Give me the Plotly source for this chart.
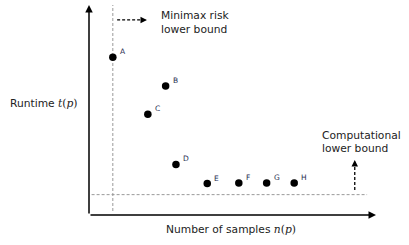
import plotly.graph_objects as go

# Data (abstract units: x = number of samples, y = runtime; axes span 0..100)
labels = ["A", "B", "C", "D", "E", "F", "G", "H"]
samples = [8.3, 26.7, 20.5, 30.3, 41.2, 52.2, 61.9, 71.5]
runtime = [75.1, 61.4, 48.0, 24.1, 15.0, 15.2, 15.2, 15.2]
minimax_bound_x = 8.3
computational_bound_y = 9.7

TXT = "#222222"
FONT = "DejaVu Sans, Verdana, sans-serif"
SERIF = "DejaVu Serif, Liberation Serif, serif"
FS = 10.7

fig = go.Figure()

# bound lines
fig.add_trace(go.Scatter(x=[minimax_bound_x, minimax_bound_x], y=[1.9, 100], mode="lines",
                         line=dict(color="#9a9a9a", width=1, dash="3px,2px"), hoverinfo="skip",
                         showlegend=False))
fig.add_trace(go.Scatter(x=[0.9, 96.9], y=[computational_bound_y, computational_bound_y], mode="lines",
                         line=dict(color="#9a9a9a", width=1, dash="3px,2px"), hoverinfo="skip",
                         showlegend=False))

# points
fig.add_trace(go.Scatter(x=samples, y=runtime, mode="markers",
                         marker=dict(color="black", size=7.5), showlegend=False))

annotations = []
for lab, xv, yv in zip(labels, samples, runtime):
    annotations.append(dict(x=xv, y=yv, text=lab, showarrow=False, xanchor="left", yanchor="bottom",
                            xshift=5, yshift=-1, font=dict(size=7.5, color="#1f2d4f", family=FONT)))

# axes with arrows
annotations.append(dict(x=0, y=100, ax=0, ay=0, xref="x", yref="y", axref="x", ayref="y",
                        showarrow=True, arrowhead=2, arrowsize=1, arrowwidth=1.5, arrowcolor="black",
                        text=""))
annotations.append(dict(x=100, y=0, ax=0, ay=0, xref="x", yref="y", axref="x", ayref="y",
                        showarrow=True, arrowhead=2, arrowsize=1, arrowwidth=1.5, arrowcolor="black",
                        text=""))

# minimax dashed arrow
fig.add_trace(go.Scatter(x=[9.8, 18.8], y=[92.9, 92.9], mode="lines",
                         line=dict(color="black", width=1.3, dash="3px,2px"), hoverinfo="skip",
                         showlegend=False))
annotations.append(dict(x=20.2, y=92.9, ax=18.0, ay=92.9, xref="x", yref="y", axref="x", ayref="y",
                        showarrow=True, arrowhead=2, arrowsize=1, arrowwidth=1.3, arrowcolor="black",
                        text=""))
for line_text, ypos in [("Minimax risk", 95.2), ("lower bound", 88.1)]:
    annotations.append(dict(x=24.4, y=ypos, text=line_text, showarrow=False,
                            xanchor="left", yanchor="middle", align="left",
                            font=dict(size=FS, color=TXT, family=FONT)))

# computational dashed arrow
fig.add_trace(go.Scatter(x=[92.6, 92.6], y=[11.9, 23.0], mode="lines",
                         line=dict(color="black", width=1.3, dash="3px,2px"), hoverinfo="skip",
                         showlegend=False))
annotations.append(dict(x=92.6, y=26.2, ax=92.6, ay=23.5, xref="x", yref="y", axref="x", ayref="y",
                        showarrow=True, arrowhead=2, arrowsize=1, arrowwidth=1.3, arrowcolor="black",
                        text=""))
for line_text, ypos in [("Computational", 38.0), ("lower bound", 31.9)]:
    annotations.append(dict(x=80.6, y=ypos, text=line_text, showarrow=False,
                            xanchor="left", yanchor="middle", align="left",
                            font=dict(size=FS, color=TXT, family=FONT)))

# axis titles
annotations.append(dict(x=0, y=53.3, xref="paper", yref="y",
                        text="Runtime <span style='font-family:" + SERIF + "'><i>t</i>(<i>p</i>)</span>",
                        showarrow=False, xanchor="left", yanchor="middle",
                        xshift=8 - 89,
                        font=dict(size=FS, color=TXT, family=FONT)))
annotations.append(dict(x=50, y=0, xref="x", yref="y",
                        text="Number of samples <span style='font-family:" + SERIF + "'><i>n</i>(<i>p</i>)</span>",
                        showarrow=False, xanchor="center", yanchor="middle", yshift=-14, xshift=-2,
                        font=dict(size=FS, color=TXT, family=FONT)))

fig.update_layout(
    width=409, height=245,
    margin=dict(l=89, r=33, t=5, b=30),
    paper_bgcolor="white", plot_bgcolor="white",
    xaxis=dict(range=[0, 100], showgrid=False, zeroline=False, showticklabels=False, ticks="",
               showline=False, fixedrange=True),
    yaxis=dict(range=[0, 100], showgrid=False, zeroline=False, showticklabels=False, ticks="",
               showline=False, fixedrange=True),
    annotations=annotations,
    showlegend=False,
)

fig.write_html("out.html", config={"displayModeBar": False},
               post_script="document.body.style.margin='0';document.body.style.overflow='hidden';")
